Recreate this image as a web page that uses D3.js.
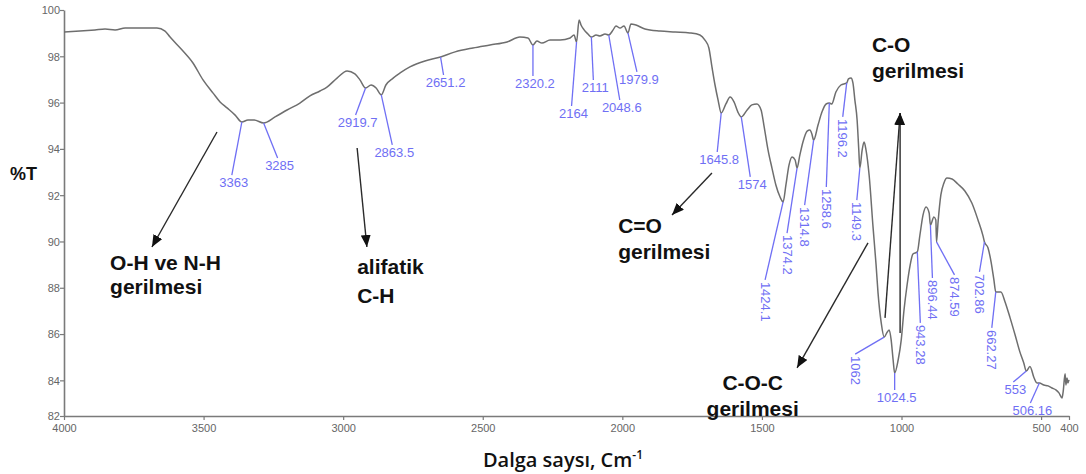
<!DOCTYPE html>
<html>
<head>
<meta charset="utf-8">
<script src="https://cdn.jsdelivr.net/npm/d3@7"></script>
<style>
  html, body { margin: 0; padding: 0; background: #fff; }
  svg { display: block; }
</style>
</head>
<body>
<svg id="chart" width="1086" height="474"></svg>
<script>
// FTIR spectrum: wavenumber (cm-1) vs. transmittance (%T)
const wavenumbers = [
  4000, 3943, 3889, 3853, 3817, 3781, 3728, 3667, 3638, 3620, 3577, 3538, 3502, 3466, 3441, 3416, 3387,
  3363, 3341, 3319, 3285, 3244, 3201, 3155, 3119, 3083, 3058, 3022, 2986, 2958, 2940, 2919.7, 2900, 2882,
  2863.5, 2847, 2821, 2796, 2761, 2707, 2651.2, 2599, 2535, 2474, 2413, 2367, 2338, 2320.2, 2306, 2288,
  2259, 2223, 2187, 2173, 2164, 2155, 2148, 2137, 2123, 2111, 2094, 2080, 2062, 2048.6, 2033, 2023, 2008,
  1994, 1979.9, 1969, 1951, 1919, 1865, 1811, 1758, 1722, 1704, 1690, 1679, 1668, 1657, 1645.8, 1629, 1614,
  1600, 1586, 1574, 1553, 1536, 1518, 1503, 1493, 1478, 1464, 1450, 1435, 1424.1, 1414, 1403, 1392, 1381,
  1374.2, 1364, 1353, 1338, 1328, 1321, 1314.8, 1299, 1285, 1270, 1258.6, 1250, 1235, 1217, 1196.2, 1190,
  1181, 1174, 1167, 1159, 1153, 1149.3, 1141, 1134, 1127, 1116, 1102, 1091, 1084, 1073, 1062, 1051, 1044,
  1037, 1030, 1024.5, 1012, 1001, 991, 980, 969, 959, 943.28, 934, 923, 912, 901, 896.44, 884, 877, 874.59,
  869, 859, 848, 837, 819, 798, 773, 748, 726, 708, 702.86, 690, 679, 669, 662.27, 644, 629, 611, 593, 576,
  562, 553, 540, 525, 515, 506.16, 490, 475, 461, 447, 436, 425, 421, 414, 411, 407, 404, 400
];
const transmittance = [
  99.05, 99.09, 99.14, 99.18, 99.14, 99.22, 99.22, 99.22, 99.09, 98.83, 98.27, 97.71, 96.98, 96.41, 96.03, 95.77, 95.46,
  95.16, 95.25, 95.25, 95.12, 95.38, 95.68, 95.98, 96.29, 96.50, 96.67, 97.06, 97.37, 97.24, 96.98, 96.63, 96.76, 96.63,
  96.33, 96.76, 97.06, 97.28, 97.54, 97.80, 97.97, 98.19, 98.36, 98.49, 98.62, 98.83, 98.79, 98.49, 98.66, 98.57,
  98.70, 98.70, 98.79, 98.92, 98.62, 99.57, 99.35, 99.14, 98.96, 98.83, 98.92, 98.88, 98.96, 98.92, 99.14, 99.31, 99.22,
  99.31, 99.01, 99.40, 99.35, 99.18, 99.09, 99.05, 99.01, 98.92, 98.70, 98.36, 97.54, 96.76, 96.11, 95.55, 95.94, 96.24,
  96.03, 95.59, 95.38, 95.68, 95.90, 95.94, 95.68, 95.03, 93.95, 93.17, 92.44, 91.92, 91.71, 92.44, 93.30, 93.65, 93.52,
  93.17, 93.74, 94.30, 94.77, 94.82, 94.64, 94.38, 95.03, 95.59, 95.94, 95.98, 95.94, 96.46, 96.76, 96.85, 97.02,
  97.06, 96.85, 96.11, 95.25, 93.95, 93.17, 93.95, 94.30, 93.95, 92.87, 90.63, 88.98, 87.77, 86.52, 85.87, 86.09, 86.18,
  85.74, 84.88, 84.32, 84.88, 85.74, 87.04, 88.12, 88.98, 89.46, 89.55, 90.28, 91.14, 91.49, 91.23, 90.71, 91.06, 90.93, 89.98,
  90.84, 92.01, 92.53, 92.74, 92.70, 92.48, 92.18, 91.66, 90.93, 90.24, 89.98, 89.72, 89.11, 88.34, 87.82, 87.82, 87.39, 86.70, 85.96, 85.23,
  84.75, 84.40, 84.60, 84.10, 83.89, 83.89, 83.80, 83.76, 83.67, 83.59, 83.46, 83.24, 83.50, 84.28, 83.80, 84.10, 83.89, 84.02
];

// Picked peaks (wavenumbers printed next to the spectrum)
const peakWavenumbers = [
  3363, 3285, 2919.7, 2863.5, 2651.2, 2320.2, 2164, 2111, 2048.6, 1979.9, 1645.8, 1574,
  1424.1, 1374.2, 1314.8, 1258.6, 1196.2, 1149.3, 1062, 1024.5, 943.28, 896.44, 874.59,
  702.86, 662.27, 553, 506.16
];

// Axis ticks
const xTicks = [4000, 3500, 3000, 2500, 2000, 1500, 1000, 500, 400];
const yTicks = [82, 84, 86, 88, 90, 92, 94, 96, 98, 100];
const yAxisBottom = 82.46;

// Band assignments
const bandLines = [["O-H ve N-H", "gerilmesi"], ["alifatik", "C-H"], ["C=O", "gerilmesi"], ["C-O", "gerilmesi"], ["C-O-C", "gerilmesi"]];

// ---- layout ----
const W = 1086, H = 474;
const margin = { left: 64, top: 10, right: 17, bottom: 58 };

const x = d3.scaleLinear().domain([4000, 400]).range([margin.left, W - margin.right]);
const y = d3.scaleLinear().domain([yAxisBottom, 100]).range([H - margin.bottom, margin.top]);

const svg = d3.select("#chart");

// arrowhead
svg.append("defs").append("marker")
  .attr("id", "arrow").attr("viewBox", "0 0 12 10")
  .attr("refX", 12).attr("refY", 5)
  .attr("markerWidth", 12).attr("markerHeight", 10)
  .attr("markerUnits", "userSpaceOnUse")
  .attr("orient", "auto")
  .append("path").attr("d", "M0,0 L12,5 L0,10 Z").attr("fill", "#111");

// axes
const axisColor = "#7a7a7a";
const xAxis = d3.axisBottom(x).tickValues(xTicks).tickSize(4).tickSizeOuter(0).tickFormat(d3.format("d"));
const gx = svg.append("g").attr("transform", `translate(0,${y(yAxisBottom)})`).call(xAxis);
const yAxis = d3.axisLeft(y)
  .tickValues(yTicks.map(v => Math.max(v, yAxisBottom)))
  .tickSize(4).tickSizeOuter(0)
  .tickFormat((d, i) => String(yTicks[i]));
const gy = svg.append("g").attr("transform", `translate(${margin.left},0)`).call(yAxis);

[gx, gy].forEach(g => {
  g.select(".domain").attr("stroke", axisColor).attr("stroke-width", 1.6);
  g.selectAll(".tick line").attr("stroke", axisColor).attr("stroke-width", 1.2);
  g.selectAll(".tick text").attr("fill", "#666").attr("font-family", "Liberation Sans, Arial, sans-serif")
    .attr("font-size", 11);
});
gx.selectAll(".tick text").attr("dy", "0.85em");
gy.selectAll(".tick text").attr("x", -4).attr("dy", "0.35em");

// spectrum
const spectrum = wavenumbers.map((w, i) => [w, transmittance[i]]);
const line = d3.line().x(d => x(d[0])).y(d => y(d[1])).curve(d3.curveMonotoneX);
svg.append("path").datum(spectrum)
  .attr("d", line).attr("fill", "none")
  .attr("stroke", "#6e6e6e").attr("stroke-width", 1.5).attr("stroke-linejoin", "round");

// peak labels
const peakColor = "#6f6ff4";
// offset of the leader end from the peak (px), and whether the label runs vertically
const peakLayout = {
  "3363": [-10, 53, 0], "3285": [14, 35, 0], "2919.7": [-10, 27, 0], "2863.5": [11, 50, 0],
  "2651.2": [3, 18, 0], "2320.2": [0, 31, 0], "2164": [-5, 64, 0], "2111": [2, 43, 0],
  "2048.6": [11, 65, 0], "1979.9": [9, 39, 0], "1645.8": [-4, 39, 0], "1574": [9, 60, 0],
  "1424.1": [-18, 78, 1], "1374.2": [-10, 65, 1], "1314.8": [-9, 65, 1], "1258.6": [-3, 84, 1],
  "1196.2": [-4, 34, 1], "1149.3": [-3, 32, 1], "1062": [-29, 17, 1], "1024.5": [0, 17, 0],
  "943.28": [3, 71, 1], "896.44": [2, 53, 1], "874.59": [18, 33, 1], "702.86": [-5, 30, 1],
  "662.27": [-4, 36, 1], "553": [-13, 11, 0], "506.16": [-9, 20, 0]
};
const interpT = w => {
  for (let i = 0; i < wavenumbers.length - 1; i++) {
    const a = wavenumbers[i], b = wavenumbers[i + 1];
    if (w <= a && w >= b) {
      const t = (a - w) / (a - b);
      return transmittance[i] + t * (transmittance[i + 1] - transmittance[i]);
    }
  }
  return transmittance[transmittance.length - 1];
};
const gp = svg.append("g").attr("font-family", "Liberation Sans, Arial, sans-serif").attr("font-size", 13);
peakWavenumbers.forEach(w => {
  const label = String(w);
  const [dx, dy, vertical] = peakLayout[label];
  const px = x(w), py = y(interpT(w));
  const ex = px + dx, ey = py + dy;
  gp.append("line").attr("x1", px).attr("y1", py).attr("x2", ex).attr("y2", ey)
    .attr("stroke", peakColor).attr("stroke-width", 1.3);
  if (vertical) {
    gp.append("text").attr("x", ex).attr("y", ey + 2)
      .attr("transform", `rotate(90,${ex},${ey + 2})`)
      .attr("dominant-baseline", "central").attr("fill", peakColor).text(label);
  } else {
    gp.append("text").attr("x", ex + 2).attr("y", ey + 12)
      .attr("text-anchor", "middle").attr("fill", peakColor).text(label);
  }
});

// band annotations: first-line baseline given in data coordinates
const bandTextPos = [[3835, 88.77], [2950, 88.60], [2015, 90.37], [1106, 98.19], [1533, 83.59]];
const bandAnchor = ["start", "start", "start", "start", "middle"];
const bandLineGap = [24, 29, 26, 26, 26];
const bandArrows = [
  [[3452, 94.73], [3685, 89.76]],
  [[2950, 94.04], [2915, 89.76]],
  [[1679, 92.96], [1822, 91.14]],
  [[1059, 86.70], [1005, 95.55]],
  [[1005, 86.05], [1005, 95.55]],
  [[1120, 89.94], [1374, 84.54]]
];
const ga = svg.append("g");
bandArrows.forEach(([a, b]) => {
  ga.append("line")
    .attr("x1", x(a[0])).attr("y1", y(a[1])).attr("x2", x(b[0])).attr("y2", y(b[1]))
    .attr("stroke", "#2a2a2a").attr("stroke-width", 1.4).attr("marker-end", "url(#arrow)");
});
bandLines.forEach((lines, i) => {
  const t = ga.append("text")
    .attr("x", x(bandTextPos[i][0])).attr("y", y(bandTextPos[i][1]))
    .attr("text-anchor", bandAnchor[i])
    .attr("font-family", "Liberation Sans, Arial, sans-serif").attr("font-weight", "bold")
    .attr("font-size", 21).attr("fill", "#111");
  lines.forEach((s, j) => {
    t.append("tspan").attr("x", x(bandTextPos[i][0])).attr("dy", j === 0 ? 0 : bandLineGap[i]).text(s);
  });
});

// axis titles
svg.append("text").attr("x", 10).attr("y", 180)
  .attr("font-family", "Liberation Sans, Arial, sans-serif").attr("font-weight", "bold")
  .attr("font-size", 18).attr("fill", "#111").text("%T");

const xt = svg.append("text").attr("x", 563).attr("y", 467).attr("text-anchor", "middle")
  .attr("font-family", "Open Sans, Liberation Sans, Arial, sans-serif").attr("font-weight", 600)
  .attr("font-size", 20).attr("fill", "#111");
xt.append("tspan").text("Dalga saysı, Cm");
xt.append("tspan").attr("font-size", 12).attr("dy", -8).text("-1");
</script>
</body>
</html>
